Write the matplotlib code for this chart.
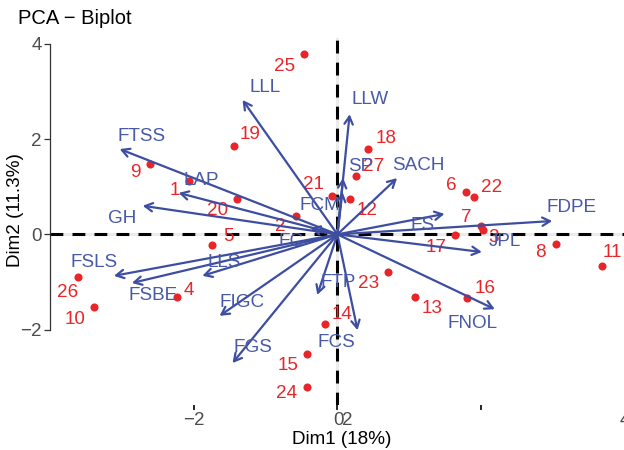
import matplotlib
matplotlib.use("Agg")
import matplotlib.pyplot as plt

plt.rcParams['font.family'] = ['Liberation Sans', 'DejaVu Sans']

# ---- individuals (points) ----
ind_names = [str(i) for i in range(1, 28)]
ind_x = [-2.07, -0.58, 2.02, -2.23, -1.75, 1.79, 2.00, 3.04, -2.61, -3.39,
         3.68, 0.18, 1.08, -0.17, -0.42, 1.81, 1.64, 0.43, -1.44, -1.40,
         -0.07, 1.90, 0.71, -0.43, -0.47, -3.61, 0.26]
ind_y = [1.12, 0.38, 0.10, -1.32, -0.22, 0.89, 0.18, -0.20, 1.47, -1.53,
         -0.66, 0.74, -1.31, -1.89, -2.50, -1.33, -0.02, 1.79, 1.85, 0.74,
         0.80, 0.79, -0.78, -3.21, 3.78, -0.89, 1.22]
# label positions (as placed by the repel algorithm)
ind_lx = [-2.26, -0.79, 2.17, -2.07, -1.51, 1.58, 1.79, 2.83, -2.81, -3.65,
          3.82, 0.42, 1.32, 0.07, -0.68, 2.06, 1.375, 0.68, -1.21, -1.67,
          -0.33, 2.14, 0.43, -0.71, -0.73, -3.76, 0.50]
ind_ly = [0.93, 0.17, -0.06, -1.17, -0.04, 1.03, 0.36, -0.37, 1.29, -1.78,
          -0.39, 0.51, -1.55, -1.69, -2.76, -1.13, -0.27, 2.02, 2.10, 0.51,
          1.05, 0.99, -1.04, -3.33, 3.53, -1.21, 1.43]

# ---- variables (arrows) ----
var_names = ["LLL", "FTSS", "LAP", "GH", "LLW", "SP", "FCM", "SACH", "FS", "FDPE",
             "JPL", "FNOL", "FCS", "FTP", "FGS", "FIGC", "LLS", "FSBE", "FSLS", "FC"]
var_x = [-1.32, -3.03, -2.21, -2.71, 0.17, 0.08, 0.07, 0.83, 1.49, 2.99,
         2.01, 2.19, 0.28, -0.28, -1.46, -1.64, -1.88, -2.86, -3.11, -0.375]
var_y = [2.82, 1.79, 0.87, 0.60, 2.52, 1.18, 0.89, 1.18, 0.43, 0.28,
         -0.37, -1.57, -2.01, -1.27, -2.70, -1.71, -0.87, -1.02, -0.87, 0.13]
var_lx = [-1.00, -2.72, -1.89, -3.00, 0.46, 0.33, -0.24, 1.125, 1.19, 3.26,
          2.33, 1.875, -0.01, 0.01, -1.18, -1.33, -1.57, -2.56, -3.39, -0.65]
var_ly = [3.09, 2.06, 1.14, 0.34, 2.82, 1.43, 0.61, 1.45, 0.195, 0.57,
          -0.16, -1.86, -2.26, -1.00, -2.38, -1.42, -0.60, -1.29, -0.60, -0.14]

x_tick_marks = [-2, 0, 2, 4]
x_label_pos = [-2.0, 0.01, 0.14, 4.0]
x_labels = ["\u22122", "0", "2", "4"]
y_ticks = [-2, 0, 2, 4]
y_labels = ["\u22122", "0", "2", "4"]

BLUE = "#3D4EA1"
BLUE_T = "#4859A9"
RED = "#E8262A"
FS = 13.6

fig = plt.figure(figsize=(6.24, 4.5), dpi=100)
ax = fig.add_axes([50/624, 45/450, 582/624, 367/450])
ax.set_xlim(-4.0, 4.1)
ax.set_ylim(-3.58, 4.12)

# grid-ish light lines under dashed reference lines
ax.axhline(0, color="#EBEBEB", lw=2.2, zorder=1)
ax.axvline(0, color="#EBEBEB", lw=2.2, zorder=1)
ax.axhline(0, color="black", lw=2.2, ls=(0, (4.2, 3.0)), zorder=2)
ax.axvline(0, color="black", lw=2.2, ls=(0, (4.2, 3.0)), zorder=2)

# points
ax.scatter(ind_x, ind_y, s=34, color=RED, zorder=3, linewidths=0)
for n, lx, ly in zip(ind_names, ind_lx, ind_ly):
    ax.text(lx, ly, n, color=RED, fontsize=FS, ha="center", va="center", zorder=4)

# arrows
for n, vx, vy, lx, ly in zip(var_names, var_x, var_y, var_lx, var_ly):
    ax.annotate("", xy=(vx, vy), xytext=(0, 0),
                arrowprops=dict(arrowstyle="->,head_length=0.55,head_width=0.3",
                                color=BLUE, lw=1.6, shrinkA=0, shrinkB=0),
                zorder=5)
    ax.text(lx, ly, n, color=BLUE_T, fontsize=FS, ha="center", va="center", zorder=6)

# axes styling
for s in ["top", "right", "bottom"]:
    ax.spines[s].set_visible(False)
ax.spines["left"].set_bounds(-2, 4)
ax.spines["left"].set_color("#333333")
ax.spines["left"].set_linewidth(0.9)

ax.set_yticks(y_ticks, y_labels)
ax.tick_params(axis="y", length=4, width=0.9, color="#333333",
               labelcolor="#4D4D4D", labelsize=13.5, pad=2)

ax.xaxis.remove_overlapping_locs = False
ax.set_xticks(x_tick_marks, [""] * len(x_tick_marks))
ax.set_xticks(x_label_pos, x_labels, minor=True)
ax.tick_params(axis="x", which="major", length=3.5, width=1.2, color="black")
ax.tick_params(axis="x", which="minor", length=0, labelcolor="#4D4D4D",
               labelsize=13.5, pad=5)

ax.set_xlabel("Dim1 (18%)", fontsize=13.6, color="black")
ax.xaxis.set_label_coords((342 - 50) / 582, -(431 - 405) / 367)
ax.set_ylabel("Dim2 (11.3%)", fontsize=13.6, color="black")
ax.yaxis.set_label_coords(-(50 - 24) / 582, (405 - 210) / 367)

fig.text(18/624, 1 - 18/450, "PCA \u2212 Biplot", fontsize=14.5, color="black",
         ha="left", va="center")

fig.savefig("out.png", dpi=100)
